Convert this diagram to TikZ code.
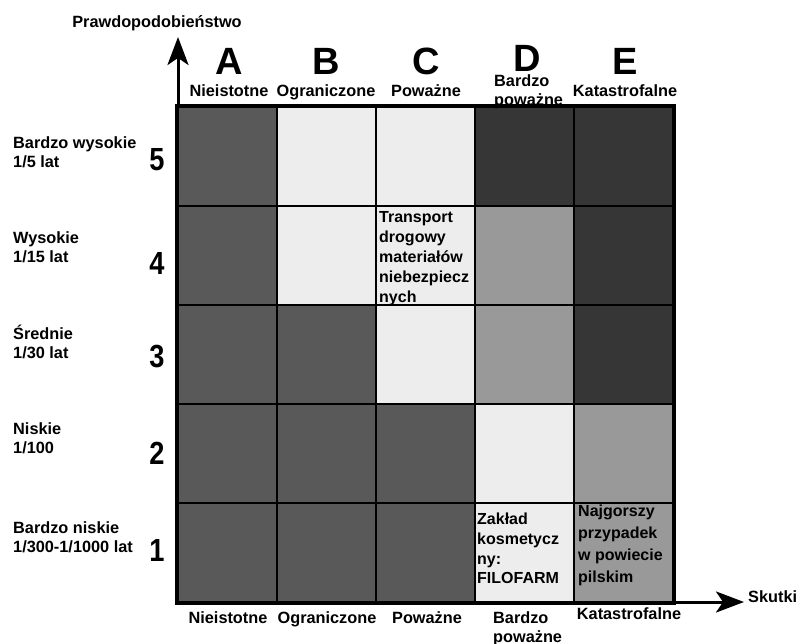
\documentclass[tikz,border=0pt]{standalone}
\usepackage{fontspec}
\setmainfont{Liberation Sans}
\usetikzlibrary{arrows.meta}

\begin{document}
\begin{tikzpicture}[x=1pt, y=-1pt,
    every node/.style={font=\bfseries\fontsize{16.3}{19}\selectfont, inner sep=0pt},
    cell/.style={draw, line width=2.5pt, minimum size=99pt},
    cdark/.style={cell, fill=black!65},
    clight/.style={cell, fill=black!7},
    cmid/.style={cell, fill=black!40},
    cdeep/.style={cell, fill=black!79},
    celltext/.style={anchor=north west, align=left, font=\bfseries\fontsize{16}{20}\selectfont},
    lbl/.style={anchor=base},
    big/.style={anchor=base, font=\bfseries\fontsize{38}{38}\selectfont},
    num/.style={font=\bfseries\fontsize{32}{32}\selectfont, xscale=0.85},
    axis/.style={line width=3pt, -{Stealth[length=28pt,width=21pt,inset=7pt]}}]
  \useasboundingbox (0,0) rectangle (802,644);

  % axes
  \coordinate (o) at (178,602);
  \coordinate (ytip) at (178,37);
  \coordinate (xtip) at (744,602);
  \draw[axis] (o) -- (ytip);
  \draw[axis] (o) -- (xtip);
  \node[lbl] (ylab) at (157,28) {Prawdopodobieństwo};
  \node[anchor=base west] (xlab) at (748,602) {Skutki};

  % row 5
  \node[cdark]  (A5) at (227.5,156.5) {};
  \node[clight] (B5) at (326.5,156.5) {};
  \node[clight] (C5) at (425.5,156.5) {};
  \node[cdeep]  (D5) at (524.5,156.5) {};
  \node[cdeep]  (E5) at (623.5,156.5) {};
  % row 4
  \node[cdark]  (A4) at (227.5,255.5) {};
  \node[clight] (B4) at (326.5,255.5) {};
  \node[clight] (C4) at (425.5,255.5) {};
  \node[cmid]   (D4) at (524.5,255.5) {};
  \node[cdeep]  (E4) at (623.5,255.5) {};
  % row 3
  \node[cdark]  (A3) at (227.5,354.5) {};
  \node[cdark]  (B3) at (326.5,354.5) {};
  \node[clight] (C3) at (425.5,354.5) {};
  \node[cmid]   (D3) at (524.5,354.5) {};
  \node[cdeep]  (E3) at (623.5,354.5) {};
  % row 2
  \node[cdark]  (A2) at (227.5,453.5) {};
  \node[cdark]  (B2) at (326.5,453.5) {};
  \node[cdark]  (C2) at (425.5,453.5) {};
  \node[clight] (D2) at (524.5,453.5) {};
  \node[cmid]   (E2) at (623.5,453.5) {};
  % row 1
  \node[cdark]  (A1) at (227.5,552.5) {};
  \node[cdark]  (B1) at (326.5,552.5) {};
  \node[cdark]  (C1) at (425.5,552.5) {};
  \node[clight] (D1) at (524.5,552.5) {};
  \node[cmid]   (E1) at (623.5,552.5) {};
  \draw[line width=4pt] (A5.north west) rectangle (E1.south east);

  % texts inside cells
  \node[celltext] (tr) at (379,211) {Transport\\drogowy\\materiałów\\niebezpiecz\\nych};
  \node[celltext, font=\bfseries\fontsize{16}{19.7}\selectfont] (fi) at (477,513)
    {Zakład\\kosmetycz\\ny:\\FILOFARM};
  \node[celltext, font=\bfseries\fontsize{16}{22}\selectfont] (pi) at (578,505)
    {Najgorszy\\przypadek\\w powiecie\\pilskim};

  % column headers
  \node[big] (LA) at (229,75) {A};
  \node[big] (LB) at (326,75) {B};
  \node[big] (LC) at (426,75) {C};
  \node[big] (LD) at (527,72) {D};
  \node[big] (LE) at (625,75) {E};
  \node[lbl] (tA) at (229,97) {Nieistotne};
  \node[lbl] (tB) at (326,97) {Ograniczone};
  \node[lbl] (tC) at (426,97) {Poważne};
  \node[anchor=north west, align=left] (tD) at (494,74) {Bardzo\\poważne};
  \node[lbl] (tE) at (625,97) {Katastrofalne};
  \node[lbl] (bA) at (228,623) {Nieistotne};
  \node[lbl] (bB) at (327,623) {Ograniczone};
  \node[lbl] (bC) at (427,623) {Poważne};
  \node[anchor=north west, align=left] (bD) at (493,611) {Bardzo\\poważne};
  \node[lbl] (bE) at (629,619) {Katastrofalne};

  % row headers
  \node[anchor=west, align=left] (r5) at (13,152) {Bardzo wysokie\\1/5 lat};
  \node[anchor=west, align=left] (r4) at (13,247) {Wysokie\\1/15 lat};
  \node[anchor=west, align=left] (r3) at (13,342) {Średnie\\1/30 lat};
  \node[anchor=west, align=left] (r2) at (13,438) {Niskie\\1/100};
  \node[anchor=west, align=left] (r1) at (13,537) {Bardzo niskie\\1/300-1/1000 lat};
  \node[num] (n5) at (157,160) {5};
  \node[num] (n4) at (157,263) {4};
  \node[num] (n3) at (157,357) {3};
  \node[num] (n2) at (157,453) {2};
  \node[num] (n1) at (157,550) {1};
\end{tikzpicture}
\end{document}
